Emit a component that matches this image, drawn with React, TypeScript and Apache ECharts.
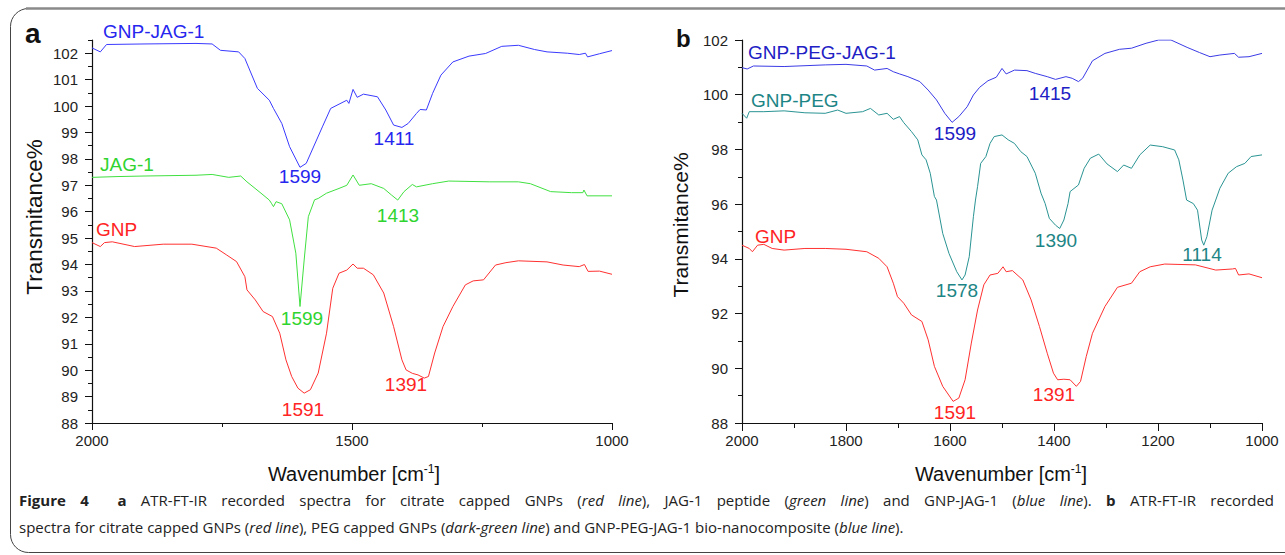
import React, { useEffect, useRef } from "react";
import * as echarts from "echarts";

// [wavenumber (cm-1), transmittance %]
const gnpJag1A: number[][] = [
  [2000, 102.2], [1984, 102.05], [1972, 102.33], [1900, 102.35], [1800, 102.37], [1769, 102.35],
  [1753, 102.11], [1718, 102.05], [1706, 101.8], [1682, 100.67], [1659, 100.22], [1651, 99.91],
  [1635, 99.34], [1620, 98.46], [1600, 97.68], [1588, 97.83], [1557, 99.21], [1541, 99.91],
  [1510, 100.22], [1506, 100.1], [1498, 100.63], [1490, 100.33], [1478, 100.45], [1451, 100.35],
  [1435, 99.85], [1420, 99.28], [1404, 99.19], [1392, 99.34], [1376, 99.72], [1369, 99.87],
  [1357, 99.85], [1345, 100.48], [1329, 101.17], [1306, 101.67], [1275, 101.89], [1243, 101.99],
  [1212, 102.26], [1180, 102.3], [1149, 102.14], [1125, 102.05], [1086, 102.0], [1063, 101.95],
  [1051, 102.0], [1047, 101.86], [1024, 101.98], [1000, 102.1],
];
const jag1A: number[][] = [
  [2000, 97.3], [1950, 97.33], [1900, 97.35], [1800, 97.38], [1769, 97.41], [1737, 97.3],
  [1714, 97.35], [1702, 97.13], [1675, 96.7], [1659, 96.44], [1655, 96.32], [1651, 96.19],
  [1646, 96.38], [1635, 96.3], [1620, 95.69], [1608, 94.43], [1600, 92.41], [1592, 94.17],
  [1584, 95.81], [1572, 96.45], [1565, 96.5], [1549, 96.7], [1525, 96.88], [1510, 97.0],
  [1498, 97.39], [1486, 97.0], [1463, 97.06], [1439, 96.88], [1424, 96.63], [1412, 96.44],
  [1400, 96.76], [1384, 97.03], [1376, 96.94], [1345, 97.06], [1314, 97.16], [1235, 97.13],
  [1180, 97.13], [1157, 97.06], [1118, 96.76], [1078, 96.72], [1056, 96.72], [1054, 96.82],
  [1048, 96.6], [1000, 96.6],
];
const gnpA: number[][] = [
  [2000, 94.83], [1984, 94.68], [1976, 94.83], [1961, 94.86], [1918, 94.68], [1863, 94.77],
  [1808, 94.77], [1761, 94.62], [1741, 94.36], [1722, 94.11], [1706, 93.54], [1702, 93.04],
  [1686, 92.66], [1671, 92.22], [1653, 92.03], [1639, 91.4], [1627, 90.39], [1616, 89.76],
  [1604, 89.32], [1592, 89.13], [1580, 89.26], [1565, 89.89], [1549, 91.4], [1537, 93.1],
  [1525, 93.67], [1510, 93.79], [1498, 94.02], [1490, 93.86], [1478, 93.86], [1459, 93.61],
  [1439, 92.92], [1420, 91.65], [1404, 90.39], [1396, 90.01], [1384, 89.88], [1373, 89.82],
  [1361, 89.7], [1353, 89.76], [1341, 90.65], [1325, 91.65], [1306, 92.41], [1282, 93.23],
  [1267, 93.38], [1247, 93.42], [1224, 93.98], [1204, 94.07], [1180, 94.14], [1125, 94.1],
  [1094, 93.98], [1063, 93.92], [1053, 94.0], [1046, 93.74], [1024, 93.75], [1000, 93.63],
];
const gnpPegJag1B: number[][] = [
  [2000, 100.99], [1990, 100.94], [1978, 101.05], [1919, 101.03], [1840, 101.09], [1800, 101.11],
  [1760, 101.05], [1745, 100.9], [1721, 100.96], [1709, 100.84], [1697, 100.76], [1681, 100.66],
  [1658, 100.48], [1642, 100.17], [1626, 99.81], [1610, 99.32], [1596, 98.99], [1583, 99.2],
  [1567, 99.56], [1555, 99.99], [1543, 100.27], [1527, 100.51], [1511, 100.64], [1500, 100.96],
  [1492, 100.76], [1476, 100.9], [1452, 100.88], [1436, 100.78], [1413, 100.66], [1397, 100.56],
  [1377, 100.66], [1365, 100.6], [1353, 100.48], [1345, 100.6], [1326, 101.24], [1302, 101.51],
  [1274, 101.66], [1251, 101.7], [1223, 101.88], [1199, 102.0], [1175, 102.0], [1144, 101.73],
  [1120, 101.54], [1100, 101.39], [1081, 101.45], [1053, 101.51], [1045, 101.37], [1025, 101.39],
  [1000, 101.51],
];
const gnpPegB: number[][] = [
  [2000, 99.32], [1991, 99.14], [1986, 99.38], [1958, 99.38], [1919, 99.41], [1879, 99.34],
  [1840, 99.32], [1816, 99.44], [1800, 99.32], [1768, 99.38], [1753, 99.5], [1737, 99.26],
  [1721, 99.32], [1709, 99.1], [1697, 99.2], [1689, 98.98], [1674, 98.65], [1662, 98.35],
  [1654, 97.8], [1646, 97.62], [1638, 97.13], [1630, 96.28], [1626, 96.15], [1614, 94.93],
  [1602, 94.2], [1587, 93.53], [1577, 93.23], [1571, 93.41], [1563, 94.08], [1555, 95.54],
  [1551, 96.15], [1547, 96.64], [1541, 97.49], [1531, 97.74], [1523, 98.22], [1515, 98.47],
  [1500, 98.53], [1488, 98.35], [1476, 98.22], [1464, 97.92], [1452, 97.74], [1436, 97.13],
  [1425, 96.4], [1417, 96.02], [1409, 95.48], [1397, 95.23], [1389, 95.11], [1381, 95.42],
  [1373, 96.02], [1369, 96.46], [1353, 96.7], [1342, 97.31], [1330, 97.68], [1314, 97.83],
  [1298, 97.47], [1278, 97.19], [1266, 97.43], [1251, 97.31], [1235, 97.8], [1215, 98.16],
  [1191, 98.1], [1168, 97.98], [1160, 97.62], [1152, 96.88], [1145, 96.15], [1132, 96.02],
  [1124, 95.78], [1116, 94.69], [1112, 94.5], [1106, 94.81], [1096, 95.78], [1089, 96.15],
  [1081, 96.58], [1065, 97.13], [1049, 97.37], [1033, 97.49], [1021, 97.74], [1000, 97.8],
];
const gnpB: number[][] = [
  [2000, 94.5], [1986, 94.38], [1980, 94.26], [1970, 94.5], [1958, 94.53], [1942, 94.38],
  [1919, 94.32], [1879, 94.38], [1840, 94.38], [1800, 94.35], [1760, 94.26], [1737, 94.02],
  [1721, 93.71], [1709, 93.11], [1701, 92.62], [1689, 92.38], [1674, 91.95], [1654, 91.71],
  [1642, 91.04], [1630, 90.07], [1614, 89.34], [1594, 88.79], [1583, 88.91], [1571, 89.58],
  [1559, 90.92], [1547, 92.13], [1535, 93.05], [1523, 93.41], [1508, 93.47], [1498, 93.71],
  [1492, 93.53], [1480, 93.57], [1460, 93.23], [1444, 92.5], [1428, 91.53], [1413, 90.55],
  [1401, 89.82], [1393, 89.58], [1381, 89.6], [1369, 89.58], [1357, 89.34], [1349, 89.52],
  [1338, 90.43], [1326, 91.28], [1302, 92.26], [1278, 92.96], [1251, 93.11], [1235, 93.53],
  [1215, 93.71], [1187, 93.81], [1128, 93.78], [1089, 93.59], [1057, 93.63], [1051, 93.65],
  [1045, 93.41], [1025, 93.45], [1000, 93.31],
];

const yTicksA = [88, 89, 90, 91, 92, 93, 94, 95, 96, 97, 98, 99, 100, 101, 102];
const yMinorA = [88.5, 89.5, 90.5, 91.5, 92.5, 93.5, 94.5, 95.5, 96.5, 97.5, 98.5, 99.5, 100.5, 101.5, 102.5];

// annotation texts: [text, x px, y px, color]
const labelsA: [string, number, number, string][] = [
  ["GNP-JAG-1", 103, 31, "#2626ee"],
  ["1599", 300, 176, "#2626ee"],
  ["1411", 394, 138, "#2626ee"],
  ["JAG-1", 100, 164, "#2fd42f"],
  ["1413", 398, 215, "#2fd42f"],
  ["GNP", 96, 229, "#ff2424"],
  ["1599", 302, 318, "#2fd42f"],
  ["1591", 303, 409, "#ff2424"],
  ["1391", 406, 384, "#ff2424"],
];
const labelsB: [string, number, number, string][] = [
  ["GNP-PEG-JAG-1", 748, 52, "#2020c4"],
  ["1415", 1050, 93, "#2020c4"],
  ["1599", 955, 133, "#2020c4"],
  ["GNP-PEG", 751, 100, "#1d8585"],
  ["1578", 957, 290, "#1d8585"],
  ["1390", 1056, 240, "#1d8585"],
  ["1114", 1202, 254, "#1d8585"],
  ["GNP", 755, 236, "#ff2424"],
  ["1591", 955, 412, "#ff2424"],
  ["1391", 1054, 394, "#ff2424"],
];

const CAPTION_1 =
  "*Figure 4*  *a* ATR-FT-IR recorded spectra for citrate capped GNPs (_red line_), JAG-1 peptide (_green line_) and GNP-JAG-1 (_blue line_). *b* ATR-FT-IR recorded";
const CAPTION_2 =
  "spectra for citrate capped GNPs ({i|red line}), PEG capped GNPs ({i|dark-green line}) and GNP-PEG-JAG-1 bio-nanocomposite ({i|blue line}).";

const FONT = "Liberation Sans";
const CAP_FONT = "Open Sans";
const CAP_SIZE = 15;

type Seg = { t: string; s: "n" | "b" | "i" };

function justifiedWords(src: string, x0: number, x1: number, y: number) {
  const segs: Seg[] = [];
  src.replace(/\*([^*]+)\*|_([^_]+)_|([^*_]+)/g, (m: string, b?: string, i?: string, n?: string) => {
    segs.push(b ? { t: b, s: "b" } : i ? { t: i, s: "i" } : { t: n || "", s: "n" });
    return m;
  });
  const words: { segs: Seg[]; gap: number }[] = [];
  let cur: Seg[] = [];
  let gapBefore = 0;
  for (const seg of segs) {
    const parts = seg.t.split(" ");
    parts.forEach((p, k) => {
      if (k > 0) {
        if (cur.length) {
          words.push({ segs: cur, gap: gapBefore });
          cur = [];
          gapBefore = 0;
        }
        gapBefore += 1;
      }
      if (p) cur.push({ t: p, s: seg.s });
    });
  }
  if (cur.length) words.push({ segs: cur, gap: gapBefore });
  const ctx = document.createElement("canvas").getContext("2d")!;
  const fontOf = (s: string) =>
    `${s === "b" ? "bold " : s === "i" ? "italic " : ""}${CAP_SIZE}px "${CAP_FONT}"`;
  const widths = words.map((w) =>
    w.segs.reduce((acc, sg) => {
      ctx.font = fontOf(sg.s);
      return acc + ctx.measureText(sg.t).width;
    }, 0)
  );
  const totalW = widths.reduce((a, b) => a + b, 0);
  const totalG = words.reduce((a, w, idx) => a + (idx === 0 ? 0 : w.gap), 0);
  const gapPx = (x1 - x0 - totalW) / totalG;
  let x = x0;
  return words.map((w, idx) => {
    if (idx > 0) x += w.gap * gapPx;
    const el = {
      type: "text",
      x,
      y,
      silent: true,
      style: {
        text: w.segs.map((sg) => (sg.s === "n" ? sg.t : `{${sg.s}|${sg.t}}`)).join(""),
        fill: "#222",
        font: fontOf("n"),
        align: "left",
        verticalAlign: "middle",
        rich: {
          b: { font: fontOf("b"), fill: "#222" },
          i: { font: fontOf("i"), fill: "#222" },
        },
      },
    };
    x += widths[idx];
    return el;
  });
}

export default function App() {
  const ref = useRef<HTMLDivElement>(null);
  useEffect(() => {
    if (!ref.current) return;
    const chart = echarts.init(ref.current, undefined, { renderer: "svg" });
    const axisLine = { show: true, lineStyle: { color: "#111", width: 1.2 } };
    const labelStyle = { color: "#222", fontSize: 15, fontFamily: FONT };
    const plain = (v: number) => String(v);
    const mkLine = (data: number[][], color: string, xi: number, yi: number) => ({
      type: "line",
      data,
      xAxisIndex: xi,
      yAxisIndex: yi,
      showSymbol: false,
      symbol: "none",
      lineStyle: { color, width: 1 },
      silent: true,
    });
    const annot = (arr: [string, number, number, string][]) =>
      arr.map(([t, x, y, c]) => ({
        type: "text",
        x,
        y,
        silent: true,
        style: {
          text: t,
          fill: c,
          font: `19px "${FONT}"`,
          align: /^\d+$/.test(t) ? "center" : "left",
          verticalAlign: "middle",
        },
      }));
    const supRich = { s: { font: `12px "${FONT}"`, fill: "#111", verticalAlign: "top", padding: [0, 0, 10, 0] } };
    chart.setOption({
      animation: false,
      backgroundColor: "#fff",
      textStyle: { fontFamily: FONT },
      grid: [
        { left: 92, top: 40, width: 520, height: 383 },
        { left: 742, top: 40, width: 520, height: 383 },
      ],
      xAxis: [
        {
          type: "value", gridIndex: 0, min: 1000, max: 2000, interval: 500, inverse: true,
          axisLine, splitLine: { show: false },
          axisTick: { show: true, length: 7, lineStyle: { color: "#111" } },
          minorTick: { show: true, splitNumber: 2, length: 4, lineStyle: { color: "#111" } },
          axisLabel: { ...labelStyle, margin: 10, formatter: plain },
        },
        {
          type: "value", gridIndex: 1, min: 1000, max: 2000, interval: 200, inverse: true,
          axisLine, splitLine: { show: false },
          axisTick: { show: true, length: 8, lineStyle: { color: "#111" } },
          minorTick: { show: true, splitNumber: 2, length: 5, lineStyle: { color: "#111" } },
          axisLabel: { ...labelStyle, margin: 10, formatter: plain },
        },
      ],
      yAxis: [
        {
          type: "value", gridIndex: 0, min: 88, max: 102.5, position: "left", offset: 0,
          axisLine, splitLine: { show: false },
          axisTick: { show: true, length: 7, customValues: yTicksA, lineStyle: { color: "#111" } },
          axisLabel: { ...labelStyle, margin: 14, customValues: yTicksA, formatter: plain },
        },
        {
          type: "value", gridIndex: 0, min: 88, max: 102.5, position: "left", offset: 0,
          axisLine: { show: false }, splitLine: { show: false },
          axisTick: { show: true, length: 4, customValues: yMinorA, lineStyle: { color: "#111" } },
          axisLabel: { show: false },
        },
        {
          type: "value", gridIndex: 1, min: 88, max: 102, interval: 2,
          axisLine, splitLine: { show: false },
          axisTick: { show: true, length: 7, lineStyle: { color: "#111" } },
          minorTick: { show: true, splitNumber: 2, length: 4, lineStyle: { color: "#111" } },
          axisLabel: { ...labelStyle, margin: 14, formatter: plain },
        },
      ],
      series: [
        mkLine(gnpJag1A, "#3a3aff", 0, 0),
        mkLine(jag1A, "#40e040", 0, 0),
        mkLine(gnpA, "#ff3030", 0, 0),
        mkLine(gnpPegJag1B, "#3b3be6", 1, 2),
        mkLine(gnpPegB, "#2a9393", 1, 2),
        mkLine(gnpB, "#ff3030", 1, 2),
      ],
      graphic: [
        {
          type: "rect",
          shape: { x: 10.5, y: 8.5, width: 1400, height: 544, r: 18 },
          style: { fill: "none", stroke: "#444", lineWidth: 1 },
          silent: true,
        },
        {
          type: "line",
          shape: { x1: 26, y1: 8.5, x2: 1285, y2: 8.5 },
          style: { stroke: "#8a8a8a", lineWidth: 2.5 },
          silent: true,
        },
        { type: "text", x: 25, y: 33, style: { text: "a", fill: "#111", font: `bold 28px "${FONT}"`, align: "left", verticalAlign: "middle" } },
        { type: "text", x: 676, y: 38, style: { text: "b", fill: "#111", font: `bold 24px "${FONT}"`, align: "left", verticalAlign: "middle" } },
        ...annot(labelsA),
        ...annot(labelsB),
        {
          type: "text", x: 34, y: 217, rotation: Math.PI / 2,
          style: { text: "Transmitance%", fill: "#111", font: `22.5px "${FONT}"`, align: "center", verticalAlign: "middle" },
        },
        {
          type: "text", x: 680, y: 225, rotation: Math.PI / 2,
          style: { text: "Transmitance%", fill: "#111", font: `21px "${FONT}"`, align: "center", verticalAlign: "middle" },
        },
        {
          type: "text", x: 354, y: 474,
          style: { text: "Wavenumber [cm{s|-1}]", fill: "#111", font: `20px "${FONT}"`, align: "center", verticalAlign: "middle", rich: supRich },
        },
        {
          type: "text", x: 1001, y: 474,
          style: { text: "Wavenumber [cm{s|-1}]", fill: "#111", font: `20px "${FONT}"`, align: "center", verticalAlign: "middle", rich: supRich },
        },
        ...justifiedWords(CAPTION_1, 19, 1274, 500),
        {
          type: "text", x: 19, y: 527, silent: true,
          style: {
            text: CAPTION_2,
            fill: "#222", font: `${CAP_SIZE}px "${CAP_FONT}"`, align: "left", verticalAlign: "middle",
            rich: { i: { font: `italic ${CAP_SIZE}px "${CAP_FONT}"`, fill: "#222" } },
          },
        },
      ],
    });
    return () => chart.dispose();
  }, []);
  return (
    <div
      ref={ref}
      style={{ position: "fixed", left: 0, top: 0, width: 1285, height: 555, background: "#fff" }}
    />
  );
}
